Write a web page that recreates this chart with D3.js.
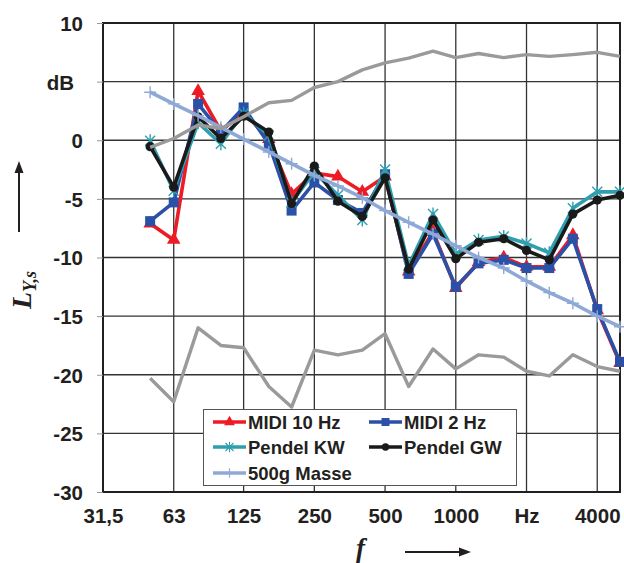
<!DOCTYPE html>
<html>
<head>
<meta charset="utf-8">
<script src="https://cdn.jsdelivr.net/npm/d3@7.9.0/dist/d3.min.js"></script>
<style>
  body { margin: 0; background: #fff; }
  svg { display: block; }
  .tick-label { font-family: "Liberation Sans", Arial, sans-serif; font-weight: bold; font-size: 20.5px; fill: #231f20; }
  .legend-text { font-family: "Liberation Sans", Arial, sans-serif; font-weight: bold; font-size: 18.5px; fill: #231f20; }
  .sym { font-family: "Liberation Serif", "DejaVu Serif", serif; font-style: italic; font-weight: bold; fill: #231f20; }
</style>
</head>
<body>
<svg id="chart" width="624" height="563"></svg>
<script>
// --- data (third-octave bands) ---
const freqs = [50, 63, 80, 100, 125, 160, 200, 250, 315, 400, 500, 630, 800, 1000, 1250, 1600, 2000, 2500, 3150, 4000, 5000];

const midi10  = [-7.1, -8.5, 4.2, 0.8, 2.4, 0.1, -4.6, -2.8, -3.1, -4.4, -3.1, -11.2, -7.8, -12.6, -10.4, -10.0, -10.8, -10.8, -8.1, -14.5, -19.0];
const midi2   = [-6.9, -5.3, 3.1, 0.7, 2.8, -0.3, -6.0, -3.6, -5.1, -6.2, -2.9, -11.4, -8.0, -12.5, -10.5, -10.2, -10.9, -10.9, -8.4, -14.4, -18.9];
const pendelKW = [-0.05, -4.3, 1.5, -0.3, 2.3, 0.4, -5.3, -2.7, -4.7, -6.8, -2.5, -10.7, -6.3, -9.7, -8.5, -8.2, -8.8, -9.6, -5.8, -4.4, -4.4];
const pendelGW = [-0.55, -4.0, 2.0, 0.15, 2.05, 0.7, -5.4, -2.2, -5.2, -6.5, -3.2, -11.0, -6.8, -10.1, -8.7, -8.4, -9.4, -10.2, -6.3, -5.1, -4.7];
const masse500 = [4.1, 3.1, 2.1, 1.1, 0.1, -1.0, -2.0, -3.0, -3.9, -4.9, -6.0, -7.0, -8.0, -9.0, -10.0, -10.9, -12.0, -13.0, -13.9, -15.0, -15.9];
const grayUpper = [-0.6, 0.15, 1.3, 1.0, 2.0, 3.2, 3.4, 4.5, 5.0, 6.0, 6.6, 7.0, 7.6, 7.05, 7.4, 7.05, 7.3, 7.15, 7.3, 7.5, 7.15];
const grayLower = [-20.3, -22.3, -16.0, -17.5, -17.7, -21.0, -22.75, -17.9, -18.3, -17.9, -16.5, -21.0, -17.8, -19.5, -18.3, -18.5, -19.7, -20.1, -18.3, -19.3, -19.7];

const xTicks = [31.5, 63, 125, 250, 500, 1000, 2000, 4000];
const xTickLabels = ['31,5', '63', '125', '250', '500', '1000', 'Hz', '4000'];
const yTicks = [-30, -25, -20, -15, -10, -5, 0, 5, 10];

// --- scales ---
const pLeft = 103, pRight = 620, pTop = 23, pBottom = 492;
const x = d3.scaleLog().domain([31.5, 5000]).range([pLeft, pRight]);
const y = d3.scaleLinear().domain([-30, 10]).range([pBottom, pTop]);

const svg = d3.select('#chart');

// gridlines
const grid = svg.append('g');
grid.selectAll('line.v').data(xTicks.slice(1)).join('line')
  .attr('x1', d => x(d)).attr('x2', d => x(d))
  .attr('y1', pTop).attr('y2', pBottom)
  .attr('stroke', '#333').attr('stroke-width', 1.3);
grid.selectAll('line.h').data(yTicks.slice(1, -1)).join('line')
  .attr('x1', pLeft).attr('x2', pRight)
  .attr('y1', d => y(d)).attr('y2', d => y(d))
  .attr('stroke', '#333').attr('stroke-width', 1.3);

// frame
svg.append('rect')
  .attr('x', pLeft).attr('y', pTop).attr('width', pRight - pLeft).attr('height', pBottom - pTop)
  .attr('fill', 'none').attr('stroke', '#231f20').attr('stroke-width', 2);

// y axis
const yAxis = svg.append('g').attr('transform', `translate(${pLeft},0)`)
  .call(d3.axisLeft(y).tickValues(yTicks).tickSize(6).tickPadding(14)
    .tickFormat(d => d === 5 ? 'dB' : String(d)));
yAxis.select('.domain').remove();
yAxis.selectAll('.tick line').attr('stroke', '#999').attr('stroke-width', 1);
yAxis.selectAll('.tick text').attr('class', 'tick-label').attr('fill', null)
  .attr('dy', '0.36em')
  .attr('dx', d => d === 5 ? -9 : 0);

// x axis
const xAxis = svg.append('g').attr('transform', `translate(0,${pBottom})`)
  .call(d3.axisBottom(x).tickValues(xTicks).tickSize(0).tickPadding(16)
    .tickFormat((d, i) => xTickLabels[i]));
xAxis.select('.domain').remove();
xAxis.selectAll('.tick text').attr('class', 'tick-label').attr('fill', null);

// --- series ---
const series = [
  { name: 'MIDI 10 Hz', values: midi10, color: '#ed1c24', marker: 'triangle' },
  { name: 'MIDI 2 Hz', values: midi2, color: '#2a50a8', marker: 'square' },
  { name: 'Pendel KW', values: pendelKW, color: '#2f9fb0', marker: 'star' },
  { name: 'Pendel GW', values: pendelGW, color: '#1a1a1a', marker: 'circle' },
  { name: '500g Masse', values: masse500, color: '#8fa9d6', marker: 'plus' }
];
const extras = [
  { values: grayUpper, color: '#9a9a9a' },
  { values: grayLower, color: '#9a9a9a' }
];

const line = d3.line().x((d, i) => x(freqs[i])).y(d => y(d));

function drawMarker(g, type, color, k = 1) {
  if (type === 'triangle') {
    g.append('path').attr('d', d3.symbol(d3.symbolTriangle, 80 * k * k)()).attr('fill', color);
  } else if (type === 'square') {
    g.append('rect').attr('x', -5 * k).attr('y', -5 * k).attr('width', 10 * k).attr('height', 10 * k).attr('fill', color);
  } else if (type === 'circle') {
    g.append('circle').attr('r', 4.6 * k).attr('fill', color);
  } else if (type === 'star') {
    g.append('path').attr('d', 'M-5,-5L5,5M-5,5L5,-5M0,-6.5L0,6.5')
      .attr('transform', `scale(${k})`)
      .attr('stroke', color).attr('stroke-width', 1.4).attr('fill', 'none');
  } else if (type === 'plus') {
    g.append('path').attr('d', 'M-6,0L6,0M0,-6L0,6')
      .attr('transform', `scale(${k})`)
      .attr('stroke', color).attr('stroke-width', 1.4).attr('fill', 'none');
  }
}

const plot = svg.append('g');
series.forEach(s => {
  plot.append('path').datum(s.values)
    .attr('d', line).attr('fill', 'none')
    .attr('stroke', s.color).attr('stroke-width', 3.6).attr('stroke-linejoin', 'round');
  s.values.forEach((v, i) => {
    const g = plot.append('g').attr('transform', `translate(${x(freqs[i])},${y(v)})`);
    drawMarker(g, s.marker, s.color);
  });
});
extras.forEach(s => {
  plot.append('path').datum(s.values)
    .attr('d', line).attr('fill', 'none')
    .attr('stroke', s.color).attr('stroke-width', 3.4).attr('stroke-linejoin', 'round');
});

// --- legend ---
const legend = svg.append('g');
legend.append('rect').attr('x', 203.5).attr('y', 409.5).attr('width', 313).attr('height', 76)
  .attr('fill', '#fff').attr('stroke', '#555').attr('stroke-width', 1);
const legendPos = [[213, 422], [369, 422], [213, 447], [369, 447], [213, 473]];
series.forEach((s, i) => {
  const [lx, ly] = legendPos[i];
  legend.append('line').attr('x1', lx).attr('x2', lx + 33).attr('y1', ly).attr('y2', ly)
    .attr('stroke', s.color).attr('stroke-width', 3.4);
  const g = legend.append('g').attr('transform', `translate(${lx + 16.5},${ly})`);
  drawMarker(g, s.marker, s.color, 0.8);
  legend.append('text').attr('class', 'legend-text')
    .attr('x', lx + 35).attr('y', ly).attr('dy', '0.36em').text(s.name);
});

// --- axis symbols and arrows ---
const yLab = svg.append('text').attr('class', 'sym')
  .attr('transform', 'translate(31,309) rotate(-90)').attr('font-size', 28);
yLab.append('tspan').text('L');
yLab.append('tspan').attr('font-size', 18).attr('dy', 5).text('Y,s');

svg.append('line').attr('x1', 19).attr('x2', 19).attr('y1', 232).attr('y2', 172)
  .attr('stroke', '#231f20').attr('stroke-width', 2);
svg.append('path').attr('d', 'M19,161L14.5,173L23.5,173Z').attr('fill', '#231f20');

svg.append('text').attr('class', 'sym').attr('x', 356).attr('y', 557)
  .attr('font-size', 27).text('f');
svg.append('line').attr('x1', 405).attr('x2', 460).attr('y1', 552).attr('y2', 552)
  .attr('stroke', '#231f20').attr('stroke-width', 2);
svg.append('path').attr('d', 'M471,552L459,547.5L459,556.5Z').attr('fill', '#231f20');
</script>
</body>
</html>
